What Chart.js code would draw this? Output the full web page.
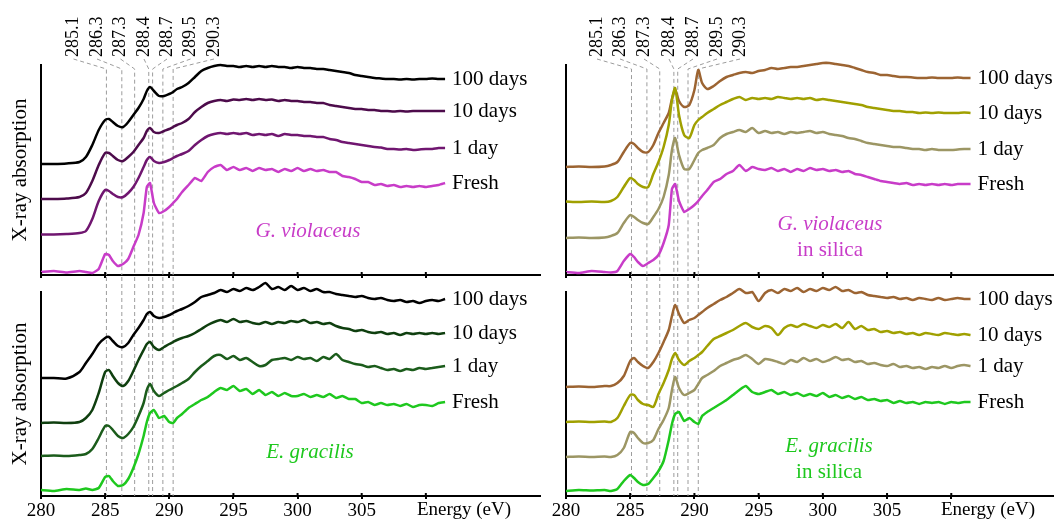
<!DOCTYPE html>
<html>
<head>
<meta charset="utf-8">
<script src="https://cdn.jsdelivr.net/npm/chart.js@4.4.1/dist/chart.umd.min.js"></script>
<style>
  body { margin: 0; background: #fff; }
  .wrap { position: relative; width: 1054px; height: 524px; }
  .wrap canvas { position: absolute; left: 0; top: 0; }
</style>
</head>
<body>
<div class="wrap">
  <canvas id="tl" width="1054" height="524"></canvas>
  <canvas id="bl" width="1054" height="524"></canvas>
  <canvas id="tr" width="1054" height="524"></canvas>
  <canvas id="br" width="1054" height="524"></canvas>
</div>
<script>
// photon energy (eV), shared by every spectrum
const energy = [280, 281, 282, 283, 283.5, 284, 284.5, 285, 285.3, 285.6,
  286, 286.4, 286.8, 287.2, 287.6, 288, 288.25, 288.5, 288.8, 289.2,
  289.6, 290, 290.3, 290.6, 291, 291.5, 292, 292.5, 293, 293.5,
  294, 294.5, 295, 295.5, 296, 296.5, 297, 297.5, 298, 298.5,
  299, 299.5, 300, 300.5, 301, 301.5, 302, 302.5, 303, 303.5,
  304, 304.5, 305, 305.5, 306, 306.5, 307, 307.5, 308, 308.5,
  309, 309.5, 310, 310.5, 311, 311.5];

const xTicks = [280, 285, 290, 295, 300, 305, 310];
const xTickLabels = ['280', '285', '290', '295', '300', '305', ''];
const peakEnergies = [285.1, 286.3, 287.3, 288.4, 288.7, 289.5, 290.3];
const peakLabels = ['285.1', '286.3', '287.3', '288.4', '288.7', '289.5', '290.3'];
const seriesNames = ['Fresh', '1 day', '10 days', '100 days'];

// G. violaceus (stacked absorption, arbitrary units)
const gvFresh = [3, 4, 2.5, 4, 3, 2, 6, 21, 20, 14,
  9, 11, 16, 28, 40, 62, 88, 92, 72, 62,
  64, 68, 72, 76, 83, 90, 97, 94, 103, 108,
  110, 105, 108, 105, 107, 104, 107, 105, 106, 103,
  106, 104, 107, 104, 106, 104, 105, 103, 103, 99,
  98, 96, 93, 93, 90, 91, 89, 90, 88, 89,
  88, 89, 88, 89, 90, 92];
const gv1 = [40.5, 40.5, 41, 42, 44, 56, 74, 85, 84, 81,
  78, 78, 82, 88, 97, 108, 115, 118, 114, 112,
  113, 115, 117, 119, 121, 124, 130, 135, 139, 141,
  142, 141, 142, 141, 142, 140, 141, 140, 141, 139,
  141, 140, 140, 139, 139, 138, 138, 136, 135, 133,
  132, 131, 130, 129, 128, 127.5, 126, 126, 125.5, 126,
  125, 125.5, 126, 126, 127, 127];
const gv10 = [76, 76, 76.5, 78, 82, 94, 110, 122, 122, 119,
  115, 114, 118, 123, 130, 137, 144, 147, 143, 142,
  144, 146, 148, 150, 152, 156, 163, 168, 172, 174,
  175, 174, 175.5, 175, 176, 175, 176, 175, 175.5, 174,
  175, 174, 174, 173, 173, 172, 172, 170, 169, 168,
  167, 166, 166, 165, 165, 164, 164, 163.5, 164, 163.5,
  164, 164, 164, 164, 164, 164];
const gv100 = [111, 111, 111.5, 113, 118, 130, 145, 155, 156, 153,
  149, 148, 153, 160, 167, 176, 184, 188, 184, 179,
  179, 181, 183, 186, 188, 192, 198, 204, 207, 209,
  210, 209, 209, 208, 209, 208, 209, 208, 209, 208,
  208, 207, 208, 207, 207, 206, 206, 205, 204, 203,
  202, 200, 199, 198, 197, 196.5, 196, 196, 195.5, 196,
  195.5, 196, 196, 196.5, 196, 196];

// E. gracilis
const egFresh = [6, 5, 7, 6, 7.5, 6, 8, 19, 20, 15,
  10, 11, 17, 28, 42, 60, 74, 83, 86, 78,
  80, 74, 73, 78, 82, 88, 92, 96, 99, 104,
  108, 106, 110, 105, 107, 102, 106, 101, 104, 100,
  103, 100, 100, 102, 99, 101, 99, 102, 98, 100,
  97, 97, 93, 94, 91, 93, 91, 92, 90, 92,
  89, 91, 91, 90, 93, 94];
const eg1 = [40, 40.5, 40, 41, 42, 47, 58, 70, 70, 66,
  60, 58, 62, 69, 80, 93, 106, 112, 105, 100,
  103, 106, 108, 110, 113, 117, 124, 130, 135, 140,
  141, 137, 140, 136, 138, 134, 130, 131, 136, 137,
  138, 136, 139, 137, 138, 135, 139, 137, 142, 136,
  134, 132, 131, 129, 130, 128, 126, 127, 125, 127,
  126, 128, 127, 128, 129, 130];
const eg10 = [73, 73.5, 73, 74, 78, 86, 103, 124, 126, 120,
  113, 110, 115, 125, 136, 146, 152, 154, 149, 146,
  149, 152, 154, 156, 158, 160, 163, 167, 171, 174,
  176, 174, 177, 174, 175, 173, 172, 174, 172, 174,
  173, 175, 174, 176, 173, 174, 172, 173, 170, 168,
  167, 165, 166, 164, 163, 164, 162, 163, 161, 163,
  162, 163, 162, 163, 162, 163];
const eg100 = [118, 118, 117.5, 124, 133, 142, 152, 158, 159, 155,
  150, 149, 153, 161, 168, 176, 182, 184, 180, 178,
  179, 181, 183, 185, 187, 190, 194, 199, 201, 203,
  206, 204, 207, 205, 208, 206, 209, 213, 207, 209,
  206, 210, 206, 208, 205, 207, 204, 204, 202, 201,
  200, 199, 200, 198, 197, 198, 196, 195, 196, 194,
  195, 193, 195, 196, 195, 197];

// G. violaceus in silica
const gvsFresh = [3, 2, 4, 3, 2.5, 4, 14, 21, 18, 13,
  9, 12, 15, 20, 32, 50, 86, 91, 74, 63,
  66, 70, 74, 79, 85, 93, 96, 101, 104, 110,
  104, 108, 106, 105, 107, 104, 106, 103, 106, 104,
  107, 105, 106, 104, 105, 103, 104, 101, 100, 98,
  96, 94, 93, 92, 91, 92, 90, 91, 90, 91,
  90, 91, 90, 91, 91, 91];
const gvs1 = [37, 37.5, 37, 37.5, 39, 42, 52, 60, 58, 55,
  52, 51, 58, 66, 78, 100, 125, 137, 120, 106,
  106, 115, 122, 125, 127, 130, 137, 141, 143, 145,
  143, 147, 142, 144, 142, 143, 141, 143, 142, 143,
  144, 142, 143, 141, 140, 139, 137, 136, 134, 132,
  131, 130, 129, 128, 128, 127, 126, 126, 125, 126,
  125, 125, 125, 125.5, 126, 126];
const gvs10 = [73.5, 73, 73.5, 73, 74, 78, 88, 97, 95, 91,
  88, 88, 101, 113, 128, 150, 175, 187, 160, 140,
  137, 150, 155, 158, 162, 166, 170, 173, 176, 178,
  175, 177, 176, 177, 176, 178, 177, 176, 177, 176,
  177, 175, 176, 175, 174, 173, 172, 171, 170, 168,
  167, 166, 165, 164, 164, 163, 163, 162, 162.5, 162,
  162.5, 162, 162, 162, 162.5, 162];
const gvs100 = [108, 108.5, 108, 108.5, 110, 113, 123, 132, 131, 127,
  123, 123, 130, 142, 152, 162, 176, 185, 174, 168,
  170, 185, 205, 192, 186, 189, 194, 198, 200, 202,
  203, 202, 204, 205, 207, 206, 207, 208, 208, 209,
  210, 211, 212, 212, 211, 210, 209, 207, 205, 203,
  202, 200, 200, 199, 198, 198, 197.5, 197, 197, 197.5,
  197, 197, 197, 197.5, 197, 197];

// E. gracilis in silica
const egsFresh = [5, 6, 5.5, 6, 5, 7, 15, 21, 18, 14,
  11, 12, 18, 25, 35, 56, 72, 82, 84, 75,
  78, 74, 72, 80, 84, 88, 92, 96, 101, 106,
  110, 104, 102, 104, 106, 102, 104, 101, 103, 100,
  102, 100, 103, 99, 101, 98, 100, 97, 99, 96,
  97, 95, 96, 93, 95, 93, 94, 92, 94, 93,
  94, 92, 94, 93, 94, 94];
const egs1 = [39, 39.5, 39, 39.5, 39, 41, 48, 64, 63, 58,
  53, 53, 56, 67, 76, 88, 106, 119, 108, 101,
  103, 106, 112, 118, 121, 125, 130, 133, 136, 138,
  141, 137, 132, 137, 136, 134, 132, 136, 134, 138,
  135, 137, 134, 136, 139, 136, 137, 134, 135, 132,
  133, 131, 130, 132, 129, 130, 128, 129, 127, 129,
  128, 130, 128, 130, 131, 130];
const egs10 = [74, 74.5, 74, 74.5, 74, 78, 90, 101, 101, 96,
  92, 91, 89, 102, 113, 126, 137, 143, 136, 131,
  135, 138, 141, 144, 150, 157, 160, 163, 166, 170,
  173, 169, 167, 170, 168, 161, 168, 171, 169, 172,
  170, 168, 171, 169, 172, 168, 174, 167, 170, 166,
  167, 164, 165, 163, 164, 162, 163, 161, 163, 162,
  161, 163, 162, 161, 162, 161];
const egs100 = [109, 109.5, 109, 110, 110, 113, 120, 135, 138, 134,
  130, 128, 134, 143, 154, 166, 180, 191, 182, 173,
  176, 178, 181, 184, 188, 192, 196, 199, 203, 207,
  203, 204, 195, 203, 206, 203, 207, 205, 208, 204,
  207, 205, 208, 206, 209, 205, 206, 203, 204, 201,
  200, 199, 198, 199, 197, 198, 196, 198, 197, 196,
  198, 196, 197, 198, 197, 197];

Chart.defaults.font.family = '"Liberation Serif", "Times New Roman", serif';
Chart.defaults.color = '#000';

const serif = '"Liberation Serif", "Times New Roman", serif';
const magenta = '#c83cc8';
const green = '#1ec81e';

// dashed guide lines, curve names and free text
const decoPlugin = {
    id: 'deco',
    beforeDatasetsDraw(chart, args, o) {
        const ctx = chart.ctx, xs = chart.scales.x, area = chart.chartArea;
        ctx.save();
        ctx.strokeStyle = '#9c9c9c';
        ctx.lineWidth = 1;
        ctx.setLineDash([4, 3]);
        peakEnergies.forEach(function (e, i) {
            const px = xs.getPixelForValue(e);
            ctx.beginPath();
            if (o.peakLabelX) {
                ctx.moveTo(o.peakLabelX[i], 59);
                ctx.lineTo(px, 69);
            } else {
                ctx.moveTo(px, area.top - 15);
            }
            ctx.lineTo(px, area.bottom);
            ctx.stroke();
        });
        ctx.restore();
    },
    afterDraw(chart, args, o) {
        const ctx = chart.ctx, xs = chart.scales.x, ys = chart.scales.y, area = chart.chartArea;
        ctx.save();

        // tick marks also poke a little into the plot
        ctx.strokeStyle = '#000';
        ctx.lineWidth = 2;
        xTicks.forEach(function (v) {
            const px = xs.getPixelForValue(v);
            ctx.beginPath();
            ctx.moveTo(px, area.bottom - 3);
            ctx.lineTo(px, area.bottom);
            ctx.stroke();
        });

        ctx.fillStyle = '#000';
        ctx.textBaseline = 'middle';
        ctx.textAlign = 'left';
        ctx.font = '21px ' + serif;
        chart.data.datasets.forEach(function (ds) {
            const last = ds.data[ds.data.length - 1];
            ctx.fillText(ds.label, xs.getPixelForValue(last.x) + 7, ys.getPixelForValue(last.y));
        });

        ctx.textAlign = 'center';
        o.species.forEach(function (s) {
            ctx.fillStyle = o.speciesColor;
            ctx.font = (s.italic ? 'italic ' : '') + '21px ' + serif;
            ctx.fillText(s.text, s.x, s.y);
        });

        ctx.fillStyle = '#000';
        if (o.energyX) {
            ctx.font = '19px ' + serif;
            ctx.fillText('Energy (eV)', o.energyX, 510);
        }

        if (o.yTitle) {
            ctx.save();
            ctx.translate(20, (area.top + area.bottom) / 2);
            ctx.rotate(-Math.PI / 2);
            ctx.font = '21px ' + serif;
            ctx.fillText('X-ray absorption', 0, 0);
            ctx.restore();
        }

        if (o.peakLabelX) {
            ctx.font = '18px ' + serif;
            ctx.textAlign = 'left';
            o.peakLabelX.forEach(function (lx, i) {
                ctx.save();
                ctx.translate(lx, 57);
                ctx.rotate(-Math.PI / 2);
                ctx.fillText(peakLabels[i], 0, 0);
                ctx.restore();
            });
        }
        ctx.restore();
    }
};

function makePanel(id, p) {
    const datasets = p.curves.map(function (vals, i) {
        return {
            label: seriesNames[i],
            data: energy.map(function (e, j) { return { x: e, y: vals[j] }; }),
            borderColor: p.colors[i],
            borderWidth: 2.5,
            pointRadius: 0,
            tension: i === 0 ? 0.15 : 0.25,
            clip: false
        };
    });
    return new Chart(document.getElementById(id).getContext('2d'), {
        type: 'line',
        data: { datasets: datasets },
        options: {
            responsive: false,
            animation: false,
            devicePixelRatio: 1,
            layout: {
                padding: { left: p.left, right: 1054 - p.right, top: p.top, bottom: p.padBottom }
            },
            plugins: {
                legend: { display: false },
                tooltip: { enabled: false },
                deco: p.deco
            },
            scales: {
                x: {
                    type: 'linear',
                    min: 280,
                    max: p.xMax,
                    afterBuildTicks: function (s) { s.ticks = xTicks.map(function (v) { return { value: v }; }); },
                    afterFit: function (s) { s.height = p.axisHeight; },
                    ticks: {
                        display: p.tickLabels,
                        autoSkip: false,
                        maxRotation: 0,
                        padding: 1,
                        font: { size: 19 },
                        callback: function (v) { return xTickLabels[xTicks.indexOf(v)]; }
                    },
                    grid: { drawOnChartArea: false, tickLength: 3, color: '#000', lineWidth: 2 },
                    border: { color: '#000', width: 2 }
                },
                y: {
                    min: 0,
                    max: p.yMax,
                    afterFit: function (s) { s.width = 0; },
                    ticks: { display: false },
                    grid: { display: false },
                    border: { color: '#000', width: 2 }
                }
            }
        },
        plugins: [decoPlugin]
    });
}

makePanel('tl', {
    left: 41, right: 540, top: 65, padBottom: 241, axisHeight: 8, yMax: 210, xMax: 318.9, tickLabels: false,
    curves: [gvFresh, gv1, gv10, gv100],
    colors: [magenta, '#701670', '#4d0b4b', '#000000'],
    deco: {
        speciesColor: magenta, yTitle: true,
        species: [{ text: 'G. violaceus', italic: true, x: 308, y: 231 }],
        peakLabelX: [73.5, 97, 120.5, 144, 167, 190.5, 214]
    }
});

makePanel('bl', {
    left: 41, right: 540, top: 292, padBottom: 0, axisHeight: 28, yMax: 204, xMax: 318.9, tickLabels: true,
    curves: [egFresh, eg1, eg10, eg100],
    colors: [green, '#1b5c1b', '#0f3f0f', '#000000'],
    deco: {
        speciesColor: green, yTitle: true, energyX: 464,
        species: [{ text: 'E. gracilis', italic: true, x: 310, y: 452 }]
    }
});

makePanel('tr', {
    left: 566, right: 1054, top: 65, padBottom: 241, axisHeight: 8, yMax: 210, xMax: 318, tickLabels: false,
    curves: [gvsFresh, gvs1, gvs10, gvs100],
    colors: [magenta, '#9c9664', '#a0a000', '#9c6432'],
    deco: {
        speciesColor: magenta, yTitle: false,
        species: [{ text: 'G. violaceus', italic: true, x: 830, y: 224 }, { text: 'in silica', italic: false, x: 830, y: 250 }],
        peakLabelX: [597, 620, 644, 669, 693, 717, 740]
    }
});

makePanel('br', {
    left: 566, right: 1054, top: 292, padBottom: 0, axisHeight: 28, yMax: 204, xMax: 318, tickLabels: true,
    curves: [egsFresh, egs1, egs10, egs100],
    colors: [green, '#9c9664', '#a0a000', '#9c6432'],
    deco: {
        speciesColor: green, yTitle: false, energyX: 988,
        species: [{ text: 'E. gracilis', italic: true, x: 829, y: 446 }, { text: 'in silica', italic: false, x: 829, y: 472 }]
    }
});
</script>
</body>
</html>
